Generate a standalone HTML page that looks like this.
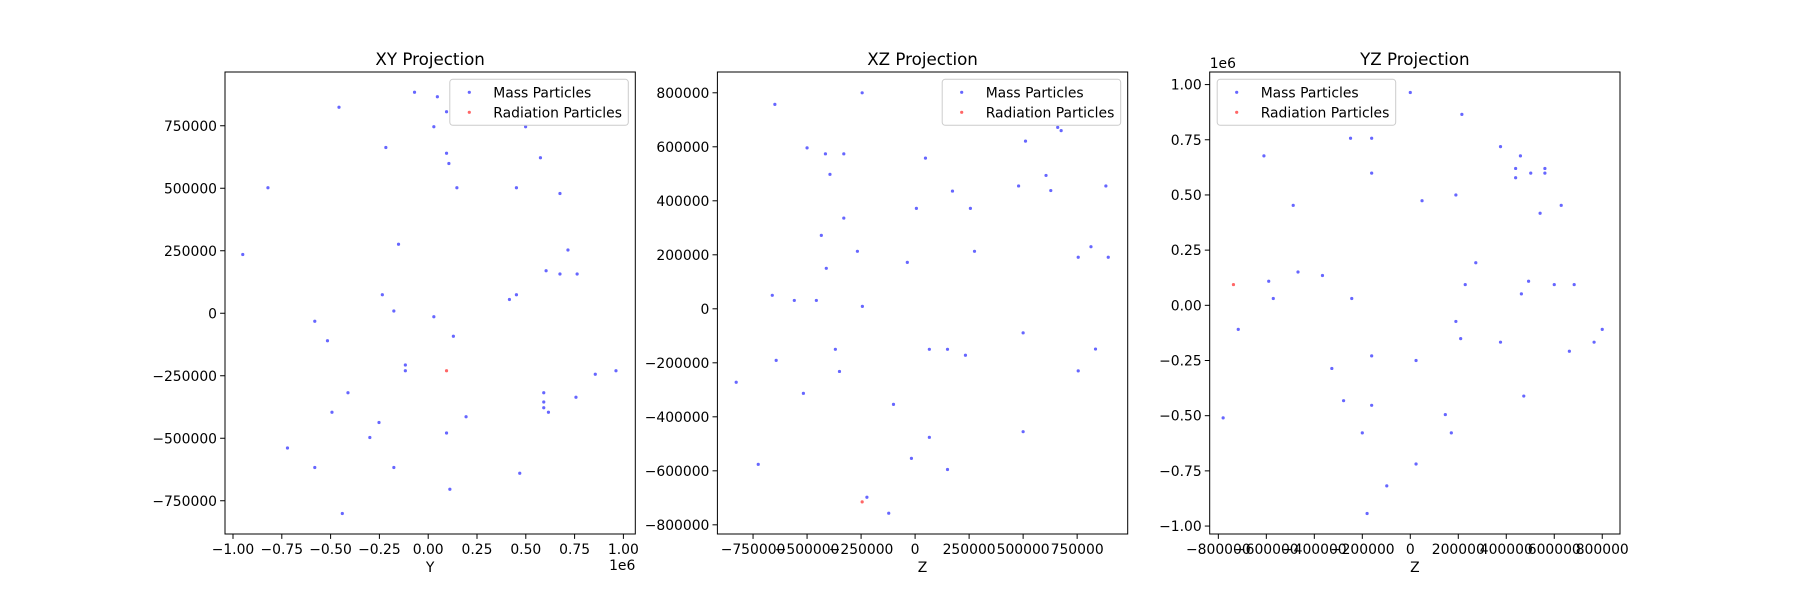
<!DOCTYPE html>
<html><head><meta charset="utf-8"><style>
body{margin:0;background:#fff;}
svg{display:block;font-family:"DejaVu Sans","Liberation Sans",sans-serif;}
</style></head><body>
<svg id="fig" width="1800" height="600" viewBox="0 0 1800 600" xmlns="http://www.w3.org/2000/svg"></svg>
<script>
// XY projection data (x in units of 1e6, y raw)
const xyMassX=[-0.070,0.047,-0.457,0.094,0.029,0.499,-0.217,0.094,0.106,0.575,-0.821,0.147,0.452,0.675,-0.152,-0.950,0.716,0.604,0.675,0.763,-0.235,0.452,0.416,-0.176,0.029,-0.581,-0.516,0.129,-0.117,-0.117,0.856,0.962,-0.411,0.592,0.592,0.592,0.616,-0.493,0.194,-0.252,0.757,-0.299,0.094,-0.721,-0.581,-0.176,0.469,0.111,-0.440];
const xyMassY=[884000,866000,824000,806000,746000,746000,663000,640000,599000,622000,502000,502000,502000,479000,276000,235000,253000,170000,157000,157000,74000,74000,55000,9000,-14000,-32000,-110000,-92000,-207000,-230000,-244000,-230000,-318000,-318000,-355000,-378000,-396000,-396000,-414000,-437000,-336000,-497000,-479000,-539000,-617000,-617000,-640000,-704000,-801000];
const xyRadX=[0.094];
const xyRadY=[-230000];
// XZ projection data
const xzMassX=[-649000,-245000,-500000,-415000,-330000,-394000,-330000,-434000,-267000,-411000,-661000,-559000,-457000,-244000,-36000,6000,173000,256000,275000,48000,-369000,-643000,-350000,-828000,-517000,-100000,66000,150000,233000,66000,-17000,150000,-726000,511000,479000,606000,628000,660000,676000,883000,894000,814000,755000,835000,755000,500000,500000,-122000,-223000];
const xzMassY=[757000,800000,596000,574000,574000,498000,336000,272000,213000,150000,50000,31000,31000,9000,172000,372000,436000,372000,213000,558000,-150000,-191000,-232000,-272000,-313000,-354000,-150000,-150000,-172000,-476000,-554000,-595000,-576000,621000,455000,494000,438000,672000,660000,455000,191000,230000,191000,-149000,-230000,-89000,-455000,-757000,-698000];
const xzRadX=[-245000];
const xzRadY=[-715000];
// YZ projection data (y in units of 1e6)
const yzMassX=[0,215000,-249000,-161000,-610000,376000,459000,439000,439000,-161000,561000,561000,502000,-488000,49000,629000,541000,190000,273000,-468000,-366000,-590000,229000,493000,600000,683000,-571000,-244000,-717000,190000,463000,210000,376000,-161000,24000,-327000,800000,766000,663000,-278000,473000,-161000,146000,-780000,171000,-200000,24000,-98000,-180000];
const yzMassY=[0.964,0.865,0.757,0.757,0.677,0.719,0.677,0.620,0.578,0.599,0.599,0.620,0.599,0.453,0.474,0.453,0.417,0.5,0.193,0.151,0.135,0.109,0.094,0.109,0.094,0.094,0.031,0.031,-0.109,-0.073,0.052,-0.151,-0.167,-0.229,-0.25,-0.286,-0.109,-0.167,-0.208,-0.432,-0.411,-0.453,-0.495,-0.510,-0.578,-0.578,-0.719,-0.818,-0.943];
const yzRadX=[-737000];
const yzRadY=[0.094];
// ticks
const p1XTicks=[-1,-0.75,-0.5,-0.25,0,0.25,0.5,0.75,1];
const p1YTicks=[-750000,-500000,-250000,0,250000,500000,750000];
const p2XTicks=[-750000,-500000,-250000,0,250000,500000,750000];
const p2YTicks=[-800000,-600000,-400000,-200000,0,200000,400000,600000,800000];
const p3XTicks=[-800000,-600000,-400000,-200000,0,200000,400000,600000,800000];
const p3YTicks=[-1,-0.75,-0.5,-0.25,0,0.25,0.5,0.75,1];

const NS="http://www.w3.org/2000/svg";
const svg=document.getElementById('fig');
function mk(tag,attrs,parent){const e=document.createElementNS(NS,tag);for(const k in attrs)e.setAttribute(k,attrs[k]);(parent||svg).appendChild(e);return e;}
function fmt(v,dec){let s=dec?v.toFixed(2):String(Math.round(v));return s.replace('-','\u2212');}

const panels=[
 {name:'xy',title:'XY Projection',xlabel:'Y',left:225,xr:[-1.041,1.061],yr:[-883000,965000],mx:xyMassX,my:xyMassY,rx:xyRadX,ry:xyRadY,xt:p1XTicks,yt:p1YTicks,xdec:true,ydec:false,xoff:true,yoff:false,leg:'right'},
 {name:'xz',title:'XZ Projection',xlabel:'Z',left:717.4,xr:[-915000,984000],yr:[-834000,877000],mx:xzMassX,my:xzMassY,rx:xzRadX,ry:xzRadY,xt:p2XTicks,yt:p2YTicks,xdec:false,ydec:false,xoff:false,yoff:false,leg:'right'},
 {name:'yz',title:'YZ Projection',xlabel:'Z',left:1209.7,xr:[-836000,874000],yr:[-1.036,1.057],mx:yzMassX,my:yzMassY,rx:yzRadX,ry:yzRadY,xt:p3XTicks,yt:p3YTicks,xdec:false,ydec:true,xoff:false,yoff:true,leg:'left'}
];
const W=410.3,TOP=72,H=462;
panels.forEach(p=>{
 const g=mk('g',{});
 
 
 const sx=v=>p.left+(v-p.xr[0])/(p.xr[1]-p.xr[0])*W;
 const sy=v=>TOP+H-(v-p.yr[0])/(p.yr[1]-p.yr[0])*H;
 const t=mk('text',{x:p.left+W/2,y:TOP-7,'text-anchor':'middle','font-size':'16.7'},g);t.textContent=p.title;
 
 
 p.mx.forEach((v,i)=>{const c=mk('circle',{cx:sx(v),cy:sy(p.my[i]),r:1.6,fill:'#0000ff','fill-opacity':0.6},g);
  
  });
 p.rx.forEach((v,i)=>{const c=mk('circle',{cx:sx(v),cy:sy(p.ry[i]),r:1.6,fill:'#ff0000','fill-opacity':0.6},g);
  
  });
 mk('rect',{x:p.left,y:TOP,width:W,height:H,fill:'none',stroke:'#000','stroke-width':1},g);
 p.xt.forEach(v=>{const x=sx(v);mk('line',{x1:x,x2:x,y1:TOP+H,y2:TOP+H+4.9,stroke:'#000'},g);
  const tx=mk('text',{x:x,y:TOP+H+20,'text-anchor':'middle','font-size':'13.9'},g);tx.textContent=fmt(v,p.xdec);
  
  });
 p.yt.forEach(v=>{const y=sy(v);mk('line',{x1:p.left,x2:p.left-4.9,y1:y,y2:y,stroke:'#000'},g);
  const ty=mk('text',{x:p.left-8,y:y+5,'text-anchor':'end','font-size':'13.9'},g);ty.textContent=fmt(v,p.ydec);
  
  });
 const xl=mk('text',{x:p.left+W/2,y:TOP+H+38,'text-anchor':'middle','font-size':'13.9'},g);xl.textContent=p.xlabel;
 
 
 if(p.xoff){const o=mk('text',{x:p.left+W,y:TOP+H+36,'text-anchor':'end','font-size':'13.9'},g);o.textContent='1e6';
  
  }
 if(p.yoff){const o=mk('text',{x:p.left,y:TOP-4,'text-anchor':'start','font-size':'13.9'},g);o.textContent='1e6';
  
  }
 const lw=178.5,lh=46,lx=p.leg==='right'?p.left+W-7-lw:p.left+7.5,ly=TOP+7.3;
 const lg=mk('g',{},g);
 
 
 mk('rect',{x:lx,y:ly,width:lw,height:lh,rx:3,fill:'#fff','fill-opacity':0.8,stroke:'#ccc'},lg);
 [['Mass Particles','#0000ff'],['Radiation Particles','#ff0000']].forEach((e,i)=>{
  const ey=ly+13+i*20;
  const m=mk('circle',{cx:lx+19.5,cy:ey,r:1.6,fill:e[1],'fill-opacity':0.6},lg);
  
  
  const tt=mk('text',{x:lx+43.5,y:ey+5,'font-size':'13.9'},lg);tt.textContent=e[0];
  
  
 });
});
</script>
</body></html>
